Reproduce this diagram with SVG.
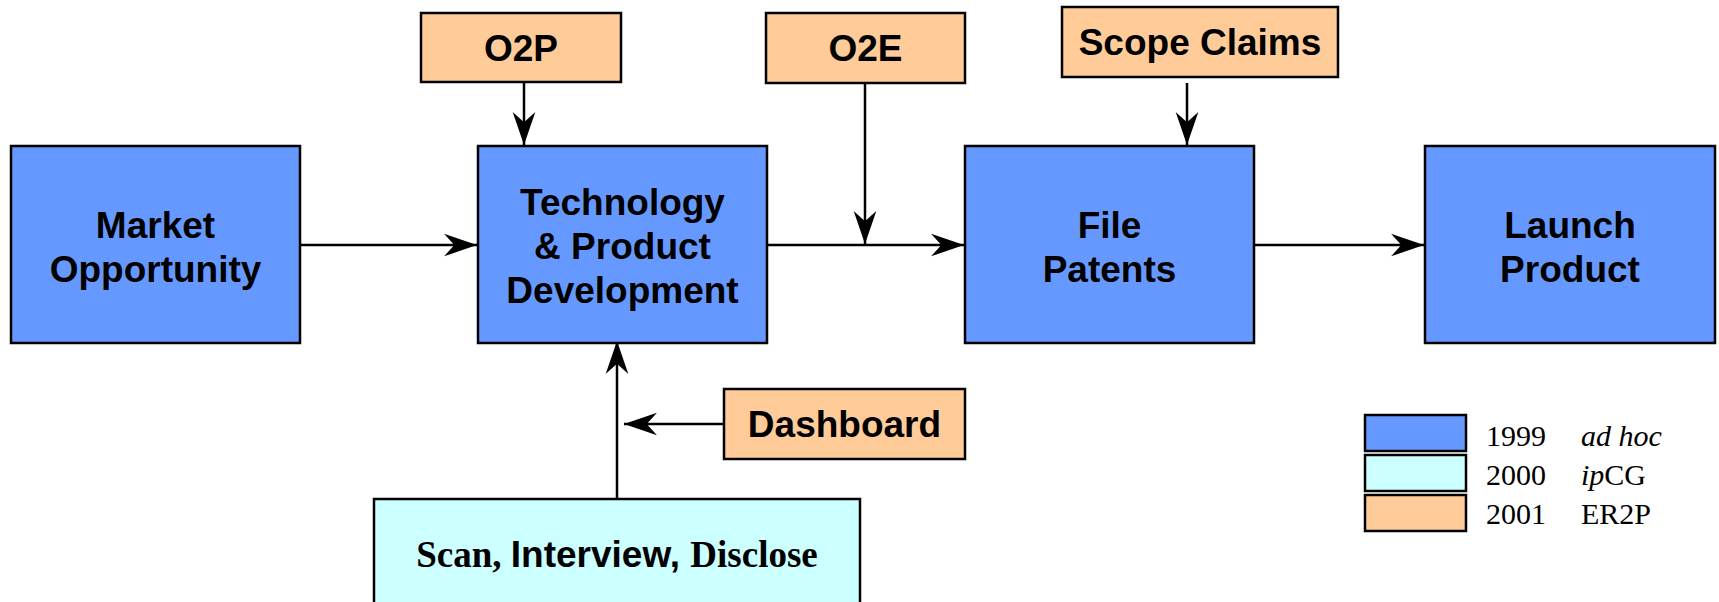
<svg xmlns="http://www.w3.org/2000/svg" width="1719" height="602" viewBox="0 0 1719 602">
<style>
.blue{fill:#6699FF;stroke:#000;stroke-width:2.5}
.cyan{fill:#CCFFFF;stroke:#000;stroke-width:2.5}
.orange{fill:#FFCC99;stroke:#000;stroke-width:2.5}
.t{font-family:"Liberation Sans",Arial,sans-serif;font-weight:bold;font-size:37px;fill:#000;text-anchor:middle}
.s{font-family:"Liberation Serif","Times New Roman",serif;font-size:30px;fill:#000}
.c{stroke:#000;stroke-width:2.5;fill:none;marker-end:url(#ah)}
</style>
<defs>
<marker id="ah" markerUnits="userSpaceOnUse" markerWidth="34" markerHeight="24" viewBox="0 0 33 22" refX="32" refY="11" orient="auto">
<path d="M32,11 L0,0 L10,11 L0,22 Z" fill="#000"/>
</marker>
</defs>
<g id="connectors">
<line class="c" x1="300" y1="245" x2="477" y2="245"/>
<line class="c" x1="767" y1="245" x2="964" y2="245"/>
<line class="c" x1="1254" y1="245" x2="1424" y2="245"/>
<line class="c" x1="524" y1="82" x2="524" y2="145"/>
<line class="c" x1="865" y1="83" x2="865" y2="244"/>
<line class="c" x1="1187" y1="83" x2="1187" y2="145"/>
<line class="c" x1="617" y1="499" x2="617" y2="341"/>
<line class="c" x1="724" y1="424" x2="624" y2="424"/>
</g>
<g id="market">
<rect class="blue" x="11" y="146" width="289" height="197"/>
<text class="t" x="155.5" y="238">Market</text>
<text class="t" x="155.5" y="282">Opportunity</text>
</g>
<g id="tech">
<rect class="blue" x="478" y="146" width="289" height="197"/>
<text class="t" x="622.5" y="215">Technology</text>
<text class="t" x="622.5" y="259">&amp; Product</text>
<text class="t" x="622.5" y="303">Development</text>
</g>
<g id="file">
<rect class="blue" x="965" y="146" width="289" height="197"/>
<text class="t" x="1109.5" y="238">File</text>
<text class="t" x="1109.5" y="282">Patents</text>
</g>
<g id="launch">
<rect class="blue" x="1425" y="146" width="290" height="197"/>
<text class="t" x="1570" y="238">Launch</text>
<text class="t" x="1570" y="282">Product</text>
</g>
<g id="o2p">
<rect class="orange" x="421" y="13" width="200" height="69"/>
<text class="t" x="521" y="61">O2P</text>
</g>
<g id="o2e">
<rect class="orange" x="766" y="13" width="199" height="70"/>
<text class="t" x="865.5" y="61">O2E</text>
</g>
<g id="scope">
<rect class="orange" x="1062" y="7" width="276" height="70"/>
<text class="t" x="1200" y="55">Scope Claims</text>
</g>
<g id="dashboard">
<rect class="orange" x="724" y="389" width="241" height="70"/>
<text class="t" x="844.5" y="437">Dashboard</text>
</g>
<g id="scan">
<rect class="cyan" x="374" y="499" width="486" height="115"/>
<text x="617" y="567" text-anchor="middle" font-size="37" font-weight="bold"><tspan font-family="'Liberation Serif','Times New Roman',serif">Scan, </tspan><tspan font-family="'Liberation Sans',Arial,sans-serif">Interview, </tspan><tspan font-family="'Liberation Serif','Times New Roman',serif">Disclose</tspan></text>
</g>
<g id="legend">
<rect class="blue" x="1365" y="415" width="101" height="36"/>
<rect class="cyan" x="1365" y="455" width="101" height="36"/>
<rect class="orange" x="1365" y="495" width="101" height="36"/>
<text class="s" x="1486" y="446">1999</text>
<text class="s" x="1581" y="446" font-style="italic">ad hoc</text>
<text class="s" x="1486" y="485">2000</text>
<text class="s" x="1581" y="485"><tspan font-style="italic">ip</tspan>CG</text>
<text class="s" x="1486" y="524">2001</text>
<text class="s" x="1581" y="524">ER2P</text>
</g>
</svg>
